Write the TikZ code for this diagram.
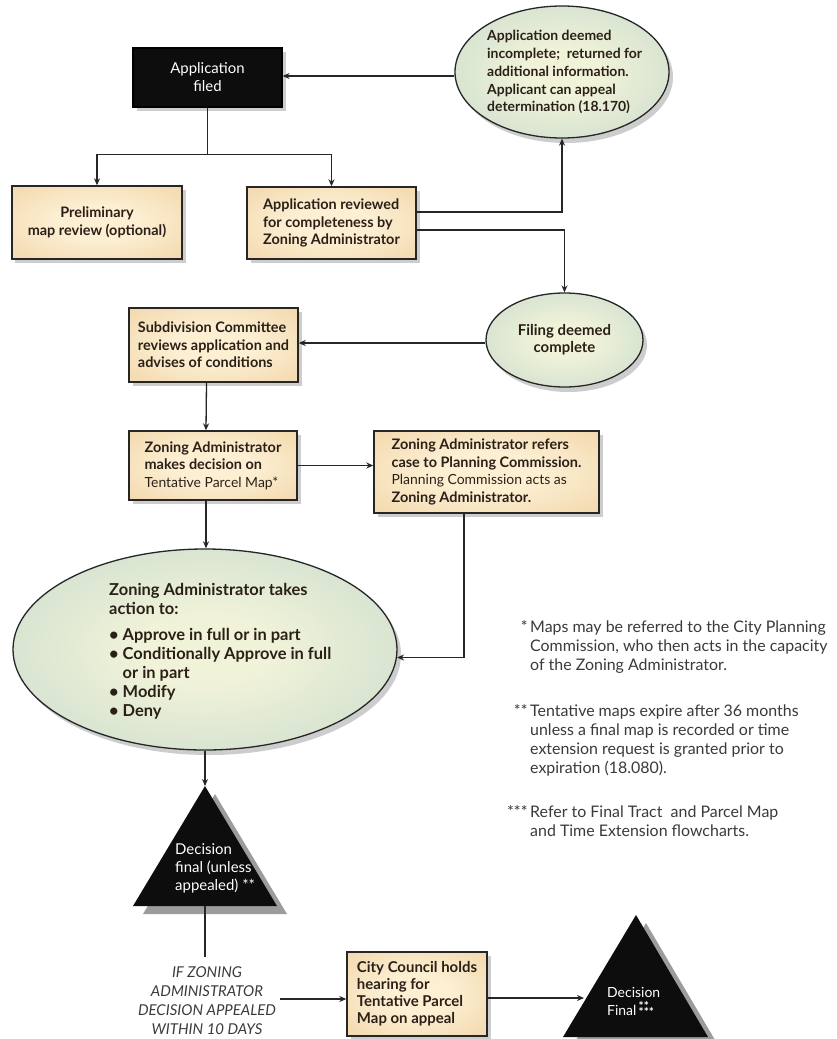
\documentclass[tikz,border=0pt]{standalone}
\usepackage{fontspec}
\setmainfont{Lato}
\usetikzlibrary{shapes.geometric,shadows,arrows.meta,calc}
\definecolor{boxin}{HTML}{FCEFD2}
\definecolor{boxout}{HTML}{E8BE84}
\definecolor{ellin}{HTML}{F1F3D9}
\definecolor{ellout}{HTML}{B5CFC7}
\definecolor{ink}{HTML}{2A2018}
\definecolor{notecol}{HTML}{3A3A3A}
\definecolor{shadowgray}{HTML}{9C9C9C}
\pgfdeclareradialshading{boxglow}{\pgfpoint{0bp}{0bp}}{color(0bp)=(boxin); color(12bp)=(boxin); color(62bp)=(boxout); color(75bp)=(boxout)}
\pgfdeclareradialshading{ellglow}{\pgfpoint{0bp}{0bp}}{color(0bp)=(ellin); color(8bp)=(ellin); color(50bp)=(ellout); color(75bp)=(ellout)}
\newcommand\boxfont{\fontsize{14.5}{17.5}\selectfont\bfseries}
\newcommand\lightfont{\fontsize{14}{17.5}\selectfont\mdseries}
\tikzset{
  conn/.style={draw=black!85, line width=1.3bp},
  arr/.style={conn, -{Stealth[length=7bp,width=6bp]}},
  tanbox/.style={rectangle, draw=black!85, line width=1.4bp, shade, shading=boxglow,
    drop shadow={shadow xshift=3.5bp, shadow yshift=-3.5bp, fill=shadowgray},
    inner sep=0pt, font=\boxfont, text=ink},
  blackbox/.style={rectangle, draw=black, line width=1.2bp, fill=black!95,
    drop shadow={shadow xshift=3.5bp, shadow yshift=-3.5bp, fill=shadowgray},
    inner sep=0pt, text=white, align=center, font=\fontsize{15}{18}\selectfont},
  greenell/.style={ellipse, draw=black!85, line width=1.3bp, shade, shading=ellglow,
    drop shadow={shadow xshift=4bp, shadow yshift=-5bp, fill=shadowgray},
    inner sep=0pt, text=ink},
  elltxt/.style={inner sep=0pt, text=ink, font=\fontsize{14}{18}\selectfont\bfseries},
  bigtxt/.style={inner sep=0pt, text=ink, align=left, font=\fontsize{16.5}{19}\selectfont\bfseries},
  tritxt/.style={inner sep=0pt, text=white, align=left, font=\fontsize{15}{18}\selectfont},
  notetxt/.style={inner sep=0pt, text=notecol, align=left, font=\fontsize{16}{19.3}\selectfont},
  appealtxt/.style={inner sep=1bp, text=notecol, align=center, font=\fontsize{15}{19}\selectfont\itshape},
}
\begin{document}
\begin{tikzpicture}[x=1bp,y=-1bp]
\useasboundingbox[fill=white] (0,0) rectangle (837,1039);

% nodes
\node[blackbox, minimum width=149bp, minimum height=59bp] (app) at (207.5,77.5) {Application\\filed};
\node[tanbox, minimum width=170bp, minimum height=73bp, align=center] (prelim) at (97,222.5) {Preliminary\\map review (optional)};
\node[tanbox, minimum width=169bp, minimum height=72bp, align=left] (rev) at (331.5,223) {Application reviewed\\for completeness by\\Zoning Administrator};
\node[greenell, minimum width=214bp, minimum height=132bp] (inc) at (562,72) {};
\node[elltxt, align=left, anchor=west] (inct) at (487,72) {Application deemed\\incomplete;\ \ returned for\\additional information.\\Applicant can appeal\\determination (18.170)};
\node[greenell, minimum width=157bp, minimum height=94bp, align=center, font=\fontsize{15}{17}\selectfont\bfseries] (fil) at (564.5,340) {Filing deemed\\complete};
\node[tanbox, minimum width=169bp, minimum height=74bp, align=left] (sub) at (213.5,345) {Subdivision Committee\\reviews application and\\advises of conditions};
\node[tanbox, minimum width=168bp, minimum height=69bp, align=left] (za) at (213,465.5) {Zoning Administrator\\makes decision on\\{\lightfont Tentative Parcel Map*}};
\node[tanbox, minimum width=225bp, minimum height=82bp, align=left] (ref) at (486.5,472) {Zoning Administrator refers\\case to Planning Commission.\\{\lightfont Planning Commission acts as}\\Zoning Administrator.};
\node[greenell, minimum width=384bp, minimum height=201bp] (big) at (205,649.5) {};
\node[bigtxt, anchor=west] (bigt) at (109,651) {Zoning Administrator takes\\action to:\\[7bp]
\textbullet\ Approve in full or in part\\
\textbullet\ Conditionally Approve in full\\
\hphantom{\textbullet\ }or in part\\
\textbullet\ Modify\\
\textbullet\ Deny};

% triangle 1
\coordinate (t1top) at (205,786);
\coordinate (t1l) at (133,906);
\coordinate (t1r) at (277,906);
\coordinate (t1bot) at (205,906);
\fill[shadowgray] ($(t1top)+(10,8)$) -- ($(t1l)+(10,8)$) -- ($(t1r)+(10,8)$) -- cycle;
\fill[black!95] (t1top) -- (t1l) -- (t1r) -- cycle;
\node[tritxt, anchor=west] (t1t) at (175,868) {Decision\\final (unless\\appealed) **};

% triangle 2
\coordinate (t2top) at (636,915);
\coordinate (t2l) at (563,1037);
\coordinate (t2r) at (708,1037);
\coordinate (t2in) at (584,998);
\fill[shadowgray] ($(t2top)+(10,8)$) -- ($(t2l)+(10,8)$) -- ($(t2r)+(10,8)$) -- cycle;
\fill[black!95] (t2top) -- (t2l) -- (t2r) -- cycle;
\node[tritxt, anchor=west, font=\fontsize{14}{18}\selectfont] (t2t) at (607,1002) {Decision\\Final\,{\fontsize{12}{12}\selectfont\bfseries\rlap{\raisebox{4.5bp}{**}}\raisebox{-1.5bp}{***}}};

% appeal
\node[appealtxt] (appeal) at (207,1001) {IF ZONING\\ADMINISTRATOR\\DECISION APPEALED\\WITHIN 10 DAYS};
\coordinate (apptop) at (205,957);
\node[tanbox, minimum width=140bp, minimum height=84bp, align=left, font=\fontsize{15}{17}\selectfont\bfseries] (cc) at (417,994) {City Council holds\\hearing for\\Tentative Parcel\\Map on appeal};

% notes
\node[notetxt, anchor=north west] (n1) at (530,620) {\llap{*\,}Maps may be referred to the City Planning\\Commission, who then acts in the capacity\\of the Zoning Administrator.};
\node[notetxt, anchor=north west] (n2) at (530,704) {\llap{**\,}Tentative maps expire after 36 months\\unless a final map is recorded or time\\extension request is granted prior to\\expiration (18.080).};
\node[notetxt, anchor=north west] (n3) at (530,805) {\llap{***\,}Refer to Final Tract\ \ and Parcel Map\\and Time Extension flowcharts.};

% connectors
\coordinate (incw) at ($(inc.west)+(0,4)$);
\draw[arr] (incw) -- (incw -| app.east);
\coordinate (split) at ($(app.south)+(0,47)$);
\draw[conn] (app.south) -- (split);
\draw[arr] (split) -| (prelim.north);
\draw[arr] (split) -| (rev.north);
\coordinate (rev1) at ($(rev.east)+(0,-11)$);
\coordinate (rev2) at ($(rev.east)+(0,7)$);
\draw[arr] (rev1) -| (inc.south);
\draw[arr] (rev2) -| (fil.north);
\coordinate (filw) at ($(fil.west)+(0,3)$);
\draw[arr] (filw) -- (filw -| sub.east);
\draw[arr] ($(sub.south)+(-7,0)$) -- ($(za.north)+(-7,0)$);
\draw[arr] (za.east) -- (za.east -| ref.west);
\coordinate (zas) at ($(za.south)+(-7,0)$);
\draw[arr] (zas) -- (zas |- big.north);
\coordinate (refs) at ($(ref.south)+(-22.5,0)$);
\coordinate (bige) at ($(big.east)+(-0.6,8)$);
\draw[arr] (refs) |- (bige);
\draw[arr] (big.south) -- (t1top);
\draw[conn] (t1bot) -- (apptop);
\coordinate (ape) at ($(appeal.east |- 0,999)+(3,0)$);
\draw[arr] (ape) -- (ape -| cc.west);
\draw[arr] ($(cc.east)+(0,4)$) -- (t2in);
\end{tikzpicture}
\end{document}
